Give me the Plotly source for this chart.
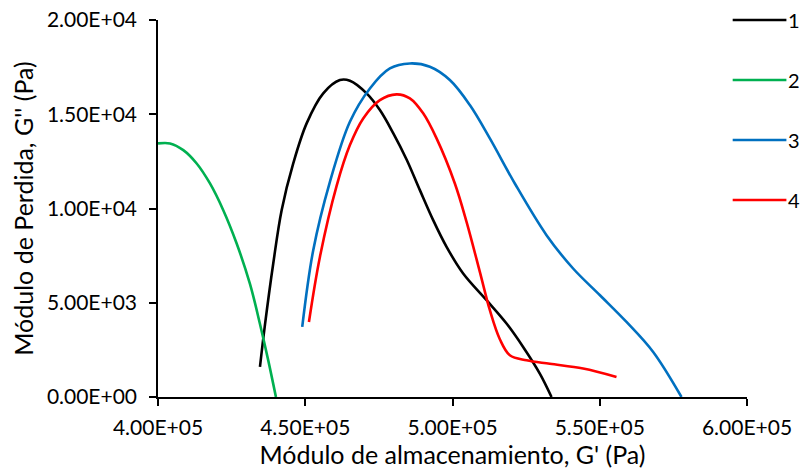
import plotly.graph_objects as go

# Storage modulus G' (Pa) and loss modulus G'' (Pa) for the four samples
g1_storage = [434620, 436317, 439133, 441984, 445922, 450470, 456104, 461771, 465165,
              470833, 475347, 479861, 484409, 488923, 493437, 497986, 503620, 511562,
              518350, 523984, 529651, 533622]
g1_loss = [1593, 3823, 7082, 9912, 12391, 14515, 16108, 16814, 16776,
           16108, 15221, 14000, 12600, 10974, 9381, 7964, 6552, 5134,
           3897, 2655, 1242, 0]

g2_storage = [400000, 404073, 408587, 413135, 417649, 422163, 426711, 431225,
              434620, 437437, 440049]
g2_loss = [13453, 13453, 13099, 12390, 11328, 9910, 8142, 5998, 3875, 1943, 0]

g3_storage = [448975, 452708, 458377, 465165, 471953, 478741, 485529, 492317, 499105,
              505893, 512681, 521166, 531925, 540953, 550075, 559082, 568141, 577748]
g3_loss = [3716, 7788, 11414, 14600, 16368, 17430, 17695, 17518, 16814,
           15487, 13717, 11326, 8585, 6817, 5399, 3982, 2389, 0]

g4_storage = [451249, 454983, 460651, 465165, 469679, 475347, 481016, 485529, 490043,
              494591, 500802, 504771, 509287, 512681, 516075, 519469, 525137, 533050,
              544352, 555688]
g4_loss = [3982, 7433, 11200, 13363, 14780, 15752, 16056, 15843, 15047,
           13719, 11329, 9291, 6636, 4603, 3063, 2214, 1948, 1763, 1508, 1062]

series_names = ["1", "2", "3", "4"]
series_colors = ["#000000", "#00B050", "#0070C0", "#FF0000"]
series_x = [g1_storage, g2_storage, g3_storage, g4_storage]
series_y = [g1_loss, g2_loss, g3_loss, g4_loss]

x_ticks = [400000, 450000, 500000, 550000, 600000]
x_tick_text = ["4.00E+05", "4.50E+05", "5.00E+05", "5.50E+05", "6.00E+05"]
y_ticks = [0, 5000, 10000, 15000, 20000]
y_tick_text = ["0.00E+00", "5.00E+03", "1.00E+04", "1.50E+04", "2.00E+04"]

FONT = "Lato"
TICK_SIZE = 21
TITLE_SIZE = 25
LEGEND_SIZE = 20

fig = go.Figure()
for name, color, xs, ys in zip(series_names, series_colors, series_x, series_y):
    fig.add_trace(go.Scatter(
        x=xs, y=ys, name=name, mode="lines",
        line=dict(color=color, width=2.6, shape="spline", smoothing=1.0),
        showlegend=False, cliponaxis=True,
    ))

# Legend drawn as short line samples with labels on the right
legend_y = [1.0, 0.8408, 0.6817, 0.5225]
shapes = []
annotations = []
for name, color, ly in zip(series_names, series_colors, legend_y):
    shapes.append(dict(type="line", xref="paper", yref="paper",
                       x0=0.9757, x1=1.0669, y0=ly, y1=ly,
                       line=dict(color=color, width=2.6)))
    annotations.append(dict(xref="paper", yref="paper", x=1.067, y=ly,
                            text=name, showarrow=False, xanchor="left",
                            yanchor="middle",
                            font=dict(family=FONT, size=LEGEND_SIZE, color="#000000")))

fig.update_layout(
    width=802, height=470,
    margin=dict(l=158, r=55, t=20, b=73),
    paper_bgcolor="white", plot_bgcolor="white",
    font=dict(family=FONT, size=TICK_SIZE, color="#000000"),
    shapes=shapes, annotations=annotations,
)
fig.update_xaxes(
    range=[400000, 600000], tickvals=x_ticks, ticktext=x_tick_text, automargin=False,
    showgrid=False, zeroline=False, showline=True, linecolor="#000000", linewidth=1.5,
    ticks="outside", ticklen=7, tickwidth=1.5, tickcolor="#000000",
    ticklabelstandoff=4, tickfont=dict(family=FONT, size=TICK_SIZE),
    title=dict(text="Módulo de almacenamiento, G' (Pa)", standoff=5,
               font=dict(family=FONT, size=TITLE_SIZE)),
)
fig.update_yaxes(
    range=[0, 20000], tickvals=y_ticks, ticktext=y_tick_text, automargin=False,
    showgrid=False, zeroline=False, showline=True, linecolor="#000000", linewidth=1.5,
    ticks="outside", ticklen=7, tickwidth=1.5, tickcolor="#000000",
    ticklabelstandoff=8, tickfont=dict(family=FONT, size=TICK_SIZE),
    title=dict(text="Módulo de Perdida, G'' (Pa)", standoff=6,
               font=dict(family=FONT, size=TITLE_SIZE)),
)

fig.write_html("out.html")
